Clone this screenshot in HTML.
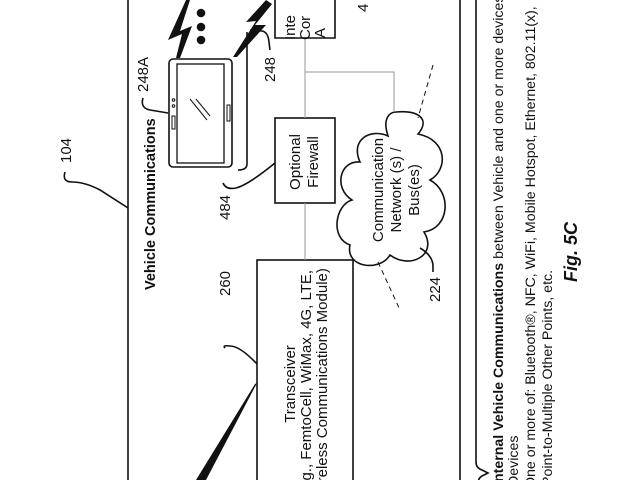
<!DOCTYPE html>
<html><head><meta charset="utf-8"><style>
html,body{margin:0;padding:0;background:#fff;width:640px;height:480px;overflow:hidden}
svg{display:block}
text{font-family:"Liberation Sans",Arial,sans-serif;fill:#111}
</style></head><body>
<svg width="640" height="480" viewBox="0 0 640 480" xmlns="http://www.w3.org/2000/svg">
<g fill="none" stroke="#111" stroke-width="1.6">
<line x1="128" y1="0" x2="128" y2="480"/>
<line x1="460" y1="0" x2="460" y2="480"/>
<path d="M476 0 L476 462 Q476 468 482 470 L488 473 L482 476 Q478 478 478 484"/>
<path d="M65 172 Q62 182 72 182 Q85 182 100 190 L128 208"/>
<rect x="169" y="59" width="63" height="108" rx="4"/>
<rect x="177" y="64" width="47" height="99" stroke-width="1.3"/>
<rect x="172" y="116" width="3" height="13" stroke-width="1"/>
<rect x="227" y="105" width="3" height="16" stroke-width="1"/>
<circle cx="173.5" cy="100" r="1.3" stroke-width="1"/>
<circle cx="173.5" cy="106" r="1.3" stroke-width="1"/>
<line x1="190" y1="99" x2="207" y2="120" stroke-width="1"/>
<line x1="196" y1="99" x2="210" y2="116" stroke-width="1"/>
<path d="M143 98 Q140 108 150 110 L168 113"/>
<path d="M250 30 L262 31 Q268 32 269 42 L270 50"/>
<path d="M247 32 L247 164 Q247 170 238 170"/>
<path d="M275 0 L275 38 L335 38 L335 0"/>
<rect x="275" y="118" width="60" height="85"/>
<rect x="257" y="260" width="96" height="240"/>
<path d="M223 183 Q226 190 236 188 Q248 185 275 163"/>
<path d="M225 348 Q222 345 230 346 Q240 346 257 364"/>
<path d="M396 112 C420 110 430 120 418 134 C448 140 448 170 430 180 C452 192 450 228 424 232 C438 255 410 270 390 255 C380 272 345 268 350 245 C330 238 335 205 352 200 C333 188 340 160 360 162 C350 140 370 128 388 136 C382 118 390 112 396 112 Z"/>
<path d="M420 248 Q432 255 433 265 L433 272"/>
</g>
<g stroke="#999" stroke-width="1" fill="none">
<line x1="305" y1="38" x2="305" y2="118"/>
<line x1="305" y1="203" x2="305" y2="260"/>
<path d="M305 72 L394 72 L394 112"/>
</g>
<g stroke="#111" stroke-width="1" stroke-dasharray="5,4" fill="none">
<line x1="433" y1="65" x2="418" y2="118"/>
<line x1="378" y1="262" x2="400" y2="310"/>
</g>
<g fill="#111">
<path d="M186 0 L168 40 L182 34 L176 58 L180 58 L192 26 L180 31 L190 0 Z"/>
<path d="M266 0 L246 22 L256 21 L233 57 L237 57 L266 25 L255 25 L272 4 Z"/>
<circle cx="201" cy="13" r="4.3"/>
<circle cx="201" cy="27" r="4.3"/>
<circle cx="201" cy="40" r="4.3"/>
<path d="M257 383 L255 384 L196 480 L206 480 Z"/>
</g>
<g font-size="15">
<text transform="translate(71,163) rotate(-90)">104</text>
<text transform="translate(155,290) rotate(-90)" font-weight="bold" font-size="14.5">Vehicle Communications</text>
<text transform="translate(148,92) rotate(-90)">248A</text>
<text transform="translate(275,82) rotate(-90)">248</text>
<text transform="translate(230,220) rotate(-90)">484</text>
<text transform="translate(230,296) rotate(-90)">260</text>
<text transform="translate(440,302) rotate(-90)">224</text>
<text transform="translate(368,12) rotate(-90)">4</text>
<text transform="translate(295,40) rotate(-90)">Inte</text>
<text transform="translate(310,40) rotate(-90)">Cor</text>
<text transform="translate(325,38) rotate(-90)">A</text>
<text transform="translate(300,162) rotate(-90)" text-anchor="middle">Optional</text>
<text transform="translate(318,162) rotate(-90)" text-anchor="middle">Firewall</text>
<text transform="translate(383,190) rotate(-90)" text-anchor="middle">Communication</text>
<text transform="translate(401,190) rotate(-90)" text-anchor="middle">Network (s) /</text>
<text transform="translate(419,190) rotate(-90)" text-anchor="middle">Bus(es)</text>
<text transform="translate(295,384) rotate(-90)" text-anchor="middle">Transceiver</text>
<text transform="translate(311,384) rotate(-90)" text-anchor="middle">(e.g., FemtoCell, WiMax, 4G, LTE,</text>
<text transform="translate(327,384) rotate(-90)" text-anchor="middle">Wireless Communications Module)</text>
<g font-size="14.2">
<text transform="translate(503,486) rotate(-90)"><tspan font-weight="bold">Internal Vehicle Communications</tspan> between Vehicle and one or more devices</text>
<text transform="translate(518,486) rotate(-90)">Devices</text>
<text transform="translate(535,488) rotate(-90)">One or more of: Bluetooth®, NFC, WiFi, Mobile Hotspot, Ethernet, 802.11(x),</text>
<text transform="translate(552,486) rotate(-90)">Point-to-Multiple Other Points, etc.</text>
</g>
<text transform="translate(577,252) rotate(-90)" text-anchor="middle" font-weight="bold" font-style="italic" font-size="18">Fig. 5C</text>
</g>
</svg>
</body></html>
